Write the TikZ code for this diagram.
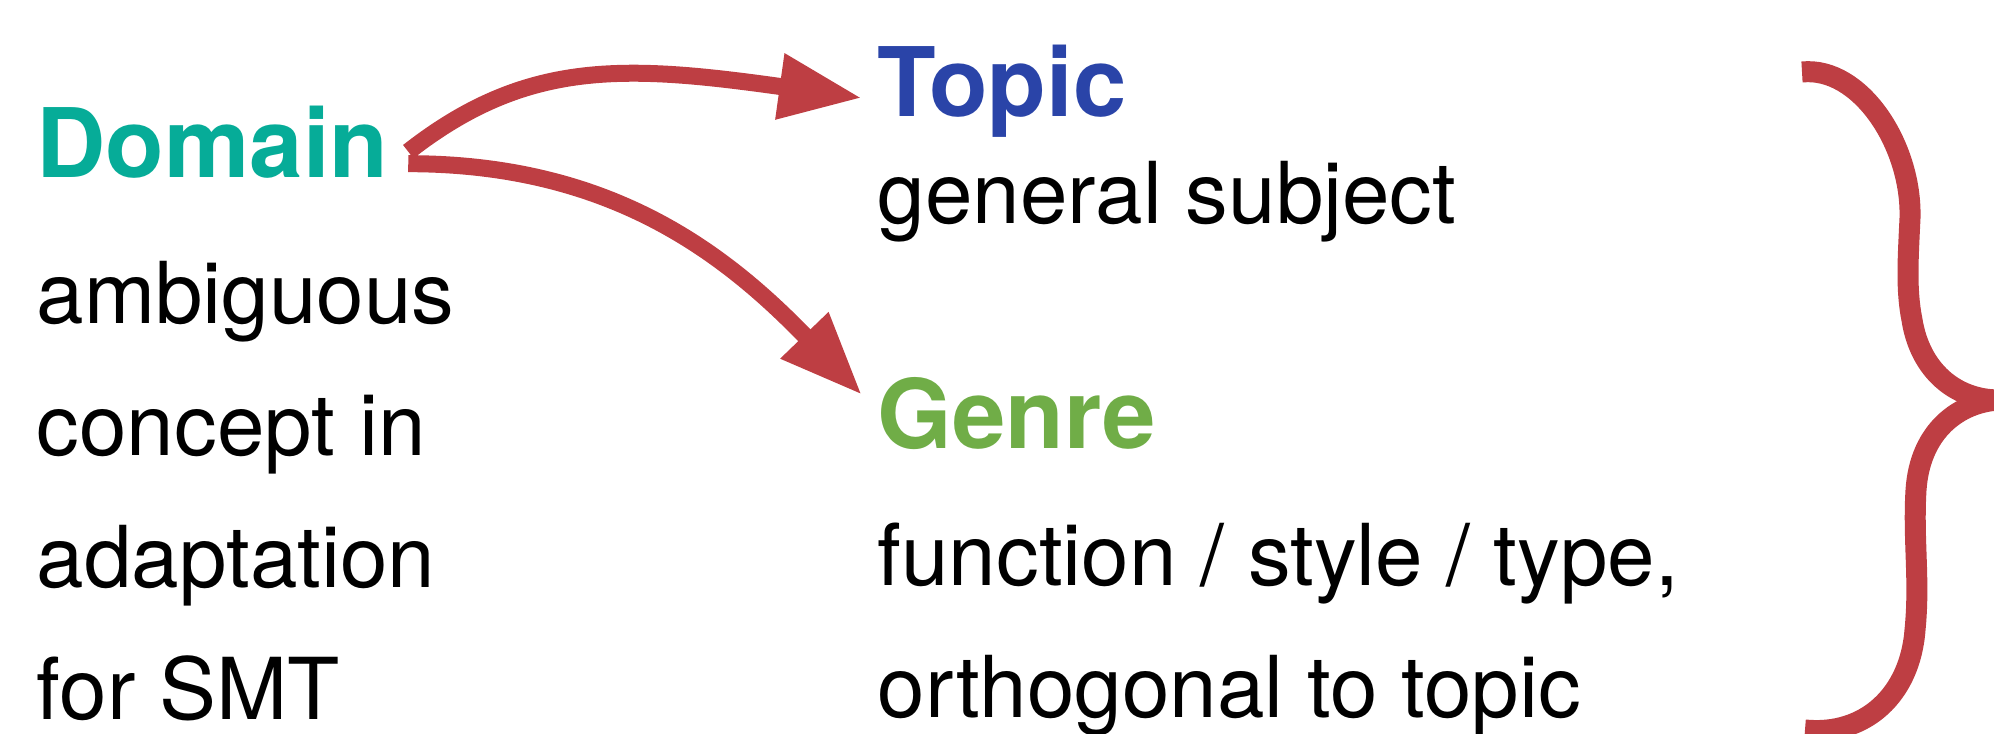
\documentclass[tikz,border=0pt]{standalone}
\usepackage{fontspec}
\setmainfont{TeX Gyre Heros}
\usepackage{xcolor}
\usetikzlibrary{positioning,arrows.meta}

\definecolor{domaincol}{RGB}{6,172,152}
\definecolor{topiccol}{RGB}{42,68,168}
\definecolor{genrecol}{RGB}{112,173,71}
\definecolor{linkcol}{RGB}{190,62,67}

\begin{document}
\begin{tikzpicture}[
  heading/.style={font=\fontsize{27.3}{32}\selectfont\bfseries,
                  inner sep=0pt, anchor=base west},
  gloss/.style={font=\fontsize{24.3}{37.6}\selectfont, inner sep=0pt,
                align=left, anchor=base west},
  link/.style={line width=0.17cm, draw=linkcol,
               -{Triangle[length=0.83cm, width=0.62cm]}},
  >=Stealth
]
  \useasboundingbox (0,0) rectangle (19.94,-7.34);

  % Domain
  \node[heading, text=domaincol] (domain) at (0.36,-1.78) {Domain};
  % (base of a multi-line node = its last line)
  \node[gloss, below=5.42cm of domain.base west, anchor=base west] (domaintxt)
    {ambiguous\\concept in\\adaptation\\for SMT};

  % Topic
  \node[heading, text=topiccol] (topic) at (8.77,-1.17) {Topic};
  \node[gloss, below=1.07cm of topic.base west, anchor=base west] (topictxt)
    {general subject};

  % Genre
  \node[heading, text=genrecol] (genre) at (8.77,-4.49) {Genre};
  \node[gloss, below=2.69cm of genre.base west, anchor=base west] (genretxt)
    {function / style / type,\\orthogonal to topic};

  % Domain splits into topic and genre
  \coordinate (fork) at ([shift={(0.19,-0.16)}]domain.east);
  \draw[link] ([yshift=0.07cm]fork) .. controls +(38:1.5) and +(172:2.4)
    .. ([shift={(-0.15,0.19)}]topic.base west);
  \draw[link] ([yshift=-0.05cm]fork) .. controls +(0:2) and +(134:2)
    .. ([shift={(-0.15,0.54)}]genre.base west);

  % Brace on the right
  \draw[line width=0.21cm, linkcol] (18.02,-0.72)
    .. controls (18.60,-0.66) and (19.12,-1.45) .. (19.10,-2.18)
    .. controls (19.08,-2.60) and (19.06,-2.90) .. (19.12,-3.20)
    .. controls (19.20,-3.70) and (19.55,-4.00) .. (19.99,-4.00);
  \draw[line width=0.21cm, linkcol] (19.99,-4.00)
    .. controls (19.60,-4.02) and (19.20,-4.30) .. (19.16,-4.90)
    .. controls (19.13,-5.40) and (19.20,-5.80) .. (19.15,-6.30)
    .. controls (19.10,-6.95) and (18.65,-7.36) .. (18.05,-7.30);
\end{tikzpicture}
\end{document}
